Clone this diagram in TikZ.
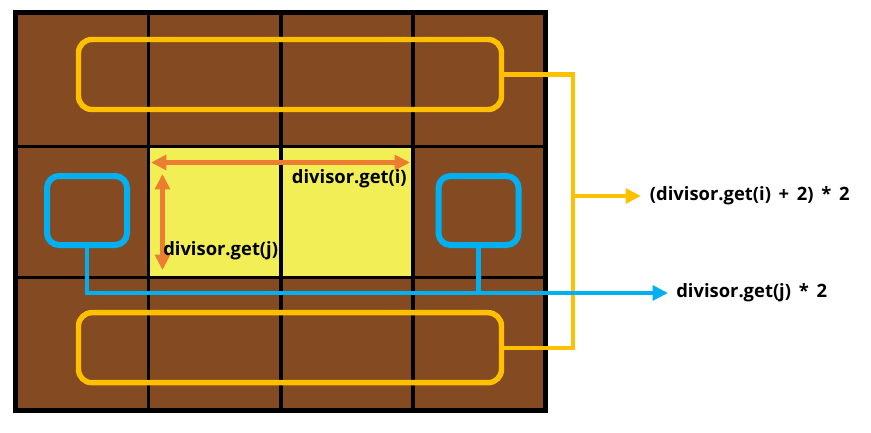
\documentclass[tikz,border=0pt]{standalone}
\usepackage{fontspec}
\setmainfont{Open Sans}
\usetikzlibrary{arrows.meta}
\definecolor{brick}{RGB}{132,74,34}
\definecolor{pale}{RGB}{242,239,86}
\definecolor{gold}{RGB}{255,192,0}
\definecolor{sky}{RGB}{0,176,240}
\definecolor{carrot}{RGB}{237,125,49}
\newcommand{\gap}{\hspace{0.42em}}
\begin{document}
\begin{tikzpicture}[x=0.75pt,y=-0.75pt,>={Triangle[length=11.5pt,width=11pt]},
    grp/.style={draw=gold, line width=4.1pt, rounded corners=10pt, minimum width=317.25pt, minimum height=52.5pt, inner sep=0pt},
    cell/.style={draw=sky, line width=4.5pt, rounded corners=9pt, minimum width=60pt, minimum height=51.75pt, inner sep=0pt},
    lbl/.style={font=\fontsize{13.8}{16}\selectfont\bfseries, inner sep=0pt}]
                    \useasboundingbox (0,0) rectangle (871,432);
                    % board
                    \fill[brick] (15.5,12.5) rectangle (545.5,410.5);
                    \fill[pale] (148.5,146.5) rectangle (413,277.5);
                    \draw[line width=2.4pt] (148.5,12.5) -- (148.5,410.5);
                    \draw[line width=2.4pt] (281,12.5) -- (281,410.5);
                    \draw[line width=2.4pt] (413,12.5) -- (413,410.5);
                    \draw[line width=2.4pt] (15.5,146.5) -- (545.5,146.5);
                    \draw[line width=2.4pt] (15.5,277.5) -- (545.5,277.5);
                    \draw[line width=3.75pt] (15.5,12.5) rectangle (545.5,410.5);
                    % size arrows
                    \coordinate (wl) at (151,162.5);
                    \coordinate (wr) at (410,162.5);
                    \coordinate (ht) at (162.5,174);
                    \coordinate (hb) at (162.5,270);
                    \draw[<->,carrot,line width=3.2pt] (wl) -- (wr);
                    \draw[<->,carrot,line width=3.2pt] (ht) -- (hb);
                    \node[lbl,anchor=east] (wlbl) at (407,179) {divisor.get(i)};
                    \node[lbl,anchor=west] (hlbl) at (163,250.5) {divisor.get(j)};
                    % outer rows
                    \node[grp] (topgrp) at (290,74.5) {};
                    \node[grp] (botgrp) at (290,347.7) {};
                    \coordinate (brk) at (573,196);
                    \node[lbl,anchor=west,inner sep=6.5pt] (sumlbl) at (641,196) {(divisor.get(i)\gap+\gap2)\gap*\gap2};
                    \draw[gold,line width=3.2pt] (topgrp.east) -| (brk) |- (botgrp.east);
                    \draw[->,gold,line width=3.2pt] (brk) -- (sumlbl.west);
                    % outer columns
                    \node[cell] (leftsq) at (87,210.5) {};
                    \node[cell] (rightsq) at (478.5,210.5) {};
                    \node[lbl,anchor=west,inner sep=6pt] (prodlbl) at (668,293) {divisor.get(j)\gap*\gap2};
                    \draw[->,sky,line width=3.5pt] (leftsq.south) |- (prodlbl.west);
                    \draw[sky,line width=3.5pt] (rightsq.south) -- (rightsq.south |- prodlbl.west);
                \end{tikzpicture}
\end{document}
